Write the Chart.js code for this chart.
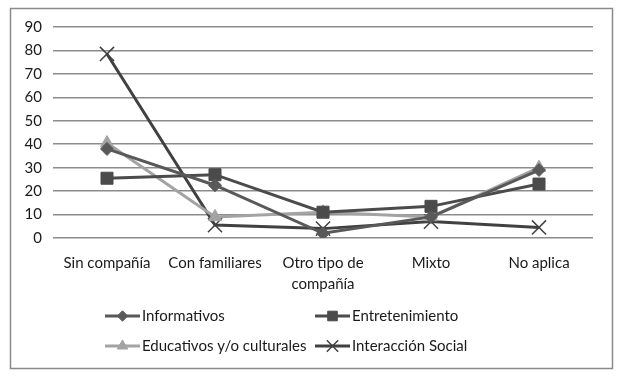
<!DOCTYPE html>
<html><head><meta charset="utf-8">
<script src="https://cdn.jsdelivr.net/npm/chart.js@4.4.1/dist/chart.umd.min.js"></script>
<style>html,body{margin:0;padding:0;background:#fff;}#wrap{width:624px;height:380px;position:relative;}</style>
</head><body><div id="wrap"><canvas id="c" width="624" height="380"></canvas></div>
<script>
const categories = ["Sin compañía", "Con familiares", ["Otro tipo de", "compañía"], "Mixto", "No aplica"];
const informativos = [38, 22.5, 2, 9, 29];
const entretenimiento = [25.5, 27, 11, 13.5, 23];
const educativos = [40.5, 9, 11, 9, 30];
const interaccion = [78.5, 5.5, 4, 7, 4.5];
const seriesNames = ["Informativos", "Entretenimiento", "Educativos y/o culturales", "Interacción Social"];
const yTicks = [0, 10, 20, 30, 40, 50, 60, 70, 80, 90];

const FONT = "Lato";
const colors = ["#595959", "#4b4b4b", "#a3a3a3", "#414141"];
const styles = ["rectRot", "rect", "triangle", "crossRot"];
const radii = [6.5, 8.5, 7.5, 10];

const datasets = [informativos, entretenimiento, educativos, interaccion].map((d, i) => ({
  label: seriesNames[i], data: d, borderColor: colors[i], backgroundColor: colors[i],
  borderWidth: 3, pointStyle: styles[i], pointRadius: radii[i], pointBorderWidth: i === 3 ? 1.5 : 1,
  pointBackgroundColor: colors[i], pointBorderColor: colors[i], tension: 0, fill: false
}));

const frameAndLegend = {
  id: 'frameAndLegend',
  beforeDraw(chart) {
    const ctx = chart.ctx;
    ctx.save();
    ctx.fillStyle = '#fff';
    ctx.fillRect(0, 0, chart.width, chart.height);
    ctx.restore();
  },
  afterDraw(chart) {
    const ctx = chart.ctx;
    ctx.save();
    ctx.strokeStyle = '#8a8a8a';
    ctx.lineWidth = 1.5;
    ctx.strokeRect(10.5, 8.5, 602, 360);
    const pos = [[105, 316], [315, 316], [105, 346], [315, 346]];
    ctx.font = "15px " + FONT;
    ctx.textBaseline = 'middle';
    ctx.fillStyle = '#1a1a1a';
    chart.data.datasets.forEach((ds, i) => {
      const [x, y] = pos[i];
      ctx.strokeStyle = ds.borderColor;
      ctx.lineWidth = 3;
      ctx.beginPath(); ctx.moveTo(x, y); ctx.lineTo(x + 35, y); ctx.stroke();
      ctx.fillStyle = ds.borderColor;
      ctx.strokeStyle = ds.borderColor;
      ctx.lineWidth = ds.pointBorderWidth;
      Chart.helpers.drawPoint(ctx, {pointStyle: ds.pointStyle, radius: ds.pointRadius * 0.8, borderWidth: ds.pointBorderWidth}, x + 17.5, y);
      ctx.fillStyle = '#1a1a1a';
      ctx.fillText(ds.label, x + 37, y);
    });
    ctx.restore();
  }
};

new Chart(document.getElementById('c'), {
  type: 'line',
  data: { labels: categories, datasets },
  options: {
    responsive: false, animation: false,
    layout: { padding: { left: 0, right: 31, top: 27, bottom: 0 } },
    plugins: { legend: { display: false }, tooltip: { enabled: false } },
    scales: {
      x: {
        offset: true,
        grid: { display: false, drawTicks: false },
        border: { display: false },
        ticks: { color: '#1a1a1a', font: { family: FONT, size: 15, lineHeight: 1.45 }, padding: 14, maxRotation: 0, autoSkip: false },
        afterFit(s) { s.height = 142; }
      },
      y: {
        min: 0, max: 90,
        afterBuildTicks(s) { s.ticks = yTicks.map(v => ({ value: v })); },
        grid: { color: '#8c8c8c', lineWidth: 1.5, drawTicks: false },
        border: { display: false },
        ticks: { color: '#1a1a1a', font: { family: FONT, size: 15 }, padding: 11 },
        afterFit(s) { s.width = 53; }
      }
    }
  },
  plugins: [frameAndLegend]
});
</script></body></html>
